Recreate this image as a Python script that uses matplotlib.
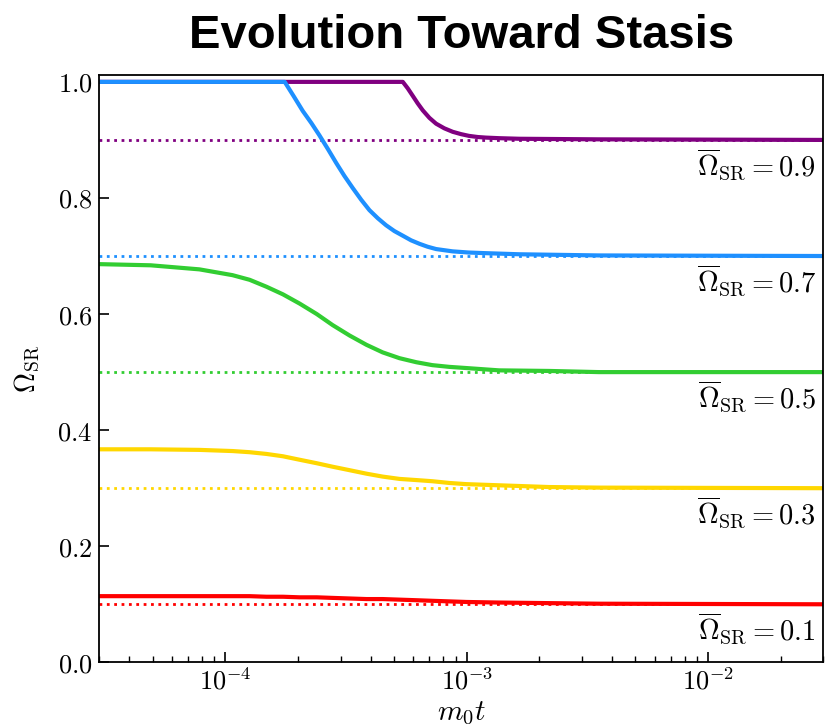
import numpy as np
import matplotlib
matplotlib.use("Agg")
import matplotlib.pyplot as plt
from matplotlib.ticker import FuncFormatter, NullFormatter, MultipleLocator, LogLocator

plt.rcParams["mathtext.fontset"] = "cm"

# Stasis targets (dotted reference levels) and line colours
stasis_levels = [0.9, 0.7, 0.5, 0.3, 0.1]
colors = ["purple", "dodgerblue", "limegreen", "gold", "red"]

# Time samples (m0 t) for the three curves that start below unity
t_low = [3.0e-5, 4.9e-5, 7.8e-5, 1.07e-4, 1.26e-4, 1.48e-4, 1.73e-4, 2.03e-4,
         2.39e-4, 2.78e-4, 3.27e-4, 3.84e-4, 4.48e-4, 5.26e-4, 6.18e-4, 7.2e-4,
         8.47e-4, 9.95e-4, 1.36e-3, 2.19e-3, 3.53e-3, 3.0e-2]

omega_05 = [0.686, 0.684, 0.677, 0.667, 0.659, 0.647, 0.634, 0.618,
            0.600, 0.581, 0.563, 0.547, 0.534, 0.524, 0.517, 0.512,
            0.509, 0.507, 0.503, 0.502, 0.500, 0.500]

omega_03 = [0.367, 0.367, 0.366, 0.364, 0.362, 0.359, 0.355, 0.349,
            0.343, 0.337, 0.331, 0.325, 0.320, 0.316, 0.314, 0.312,
            0.309, 0.307, 0.305, 0.302, 0.301, 0.300]

omega_01 = [0.114, 0.114, 0.114, 0.114, 0.114, 0.113, 0.113, 0.112,
            0.112, 0.111, 0.110, 0.109, 0.109, 0.108, 0.107, 0.106,
            0.105, 0.104, 0.103, 0.102, 0.101, 0.100]

# Curve saturating at unity before relaxing to 0.7
t_07 = [3.0e-5, 1.76e-4, 1.92e-4, 2.09e-4, 2.27e-4, 2.45e-4, 2.66e-4, 2.88e-4,
        3.11e-4, 3.37e-4, 3.65e-4, 3.95e-4, 4.28e-4, 4.63e-4, 5.01e-4, 5.43e-4,
        5.88e-4, 6.37e-4, 6.88e-4, 7.46e-4, 8.07e-4, 8.74e-4, 1.02e-3, 1.18e-3,
        1.65e-3, 3.53e-3, 3.0e-2]
omega_07 = [1.0, 1.0, 0.975, 0.950, 0.929, 0.908, 0.884, 0.860,
            0.838, 0.817, 0.797, 0.779, 0.765, 0.753, 0.743, 0.735,
            0.727, 0.721, 0.716, 0.712, 0.710, 0.708, 0.706, 0.705,
            0.703, 0.701, 0.700]

# Curve saturating at unity before relaxing to 0.9
t_09 = [3.0e-5, 5.43e-4, 5.69e-4, 5.97e-4, 6.26e-4, 6.57e-4, 7.00e-4, 7.46e-4,
        8.07e-4, 8.74e-4, 9.46e-4, 1.02e-3, 1.11e-3, 1.20e-3, 1.36e-3, 1.65e-3,
        3.53e-3, 3.0e-2]
omega_09 = [1.0, 1.0, 0.989, 0.976, 0.963, 0.951, 0.938, 0.928,
            0.920, 0.914, 0.910, 0.907, 0.905, 0.904, 0.903, 0.902,
            0.901, 0.900]

series = [(t_09, omega_09), (t_07, omega_07), (t_low, omega_05),
          (t_low, omega_03), (t_low, omega_01)]

fig = plt.figure(figsize=(8.3, 7.28), dpi=100)
ax = fig.add_axes([0.1196, 0.0902, 0.8723, 0.8061])

for level, col, (t, om) in zip(stasis_levels, colors, series):
    ax.axhline(level, color=col, ls=":", lw=2.0, zorder=1)
    ax.plot(t, om, color=col, lw=3.0, zorder=2, solid_joinstyle="round")
    ax.text(0.99, level - 0.012,
            r"$\overline{\Omega}_{\rm SR} = %.1f$" % level,
            transform=ax.get_yaxis_transform(), ha="right", va="top",
            fontsize=20.5)

ax.set_xscale("log")
ax.set_xlim(3e-5, 3e-2)
ax.set_ylim(0.0, 1.011)

ax.xaxis.set_major_locator(LogLocator(base=10, numticks=10))
ax.xaxis.set_minor_locator(LogLocator(base=10, subs=np.arange(2, 10), numticks=20))
ax.xaxis.set_major_formatter(FuncFormatter(lambda v, _: r"$10^{%d}$" % round(np.log10(v))))
ax.xaxis.set_minor_formatter(NullFormatter())
ax.yaxis.set_major_locator(MultipleLocator(0.2))
ax.yaxis.set_major_formatter(FuncFormatter(lambda v, _: r"$%.1f$" % v))

ax.tick_params(which="both", direction="in", top=False, right=False, labelsize=19)
ax.tick_params(which="major", length=7, width=1.2)
ax.tick_params(which="minor", length=4, width=1.0)
ax.tick_params(axis="y", pad=5)
ax.tick_params(axis="x", pad=5)

for sp in ax.spines.values():
    sp.set_linewidth(1.3)

ax.set_xlabel(r"$m_0 t$", fontsize=21, labelpad=2)
ax.set_ylabel(r"$\Omega_{\rm SR}$", fontsize=20, labelpad=11)
ax.set_title("Evolution Toward Stasis", fontsize=34, fontweight="bold",
             family=["Liberation Sans", "DejaVu Sans"], pad=20)

fig.savefig("out.png", dpi=100)
